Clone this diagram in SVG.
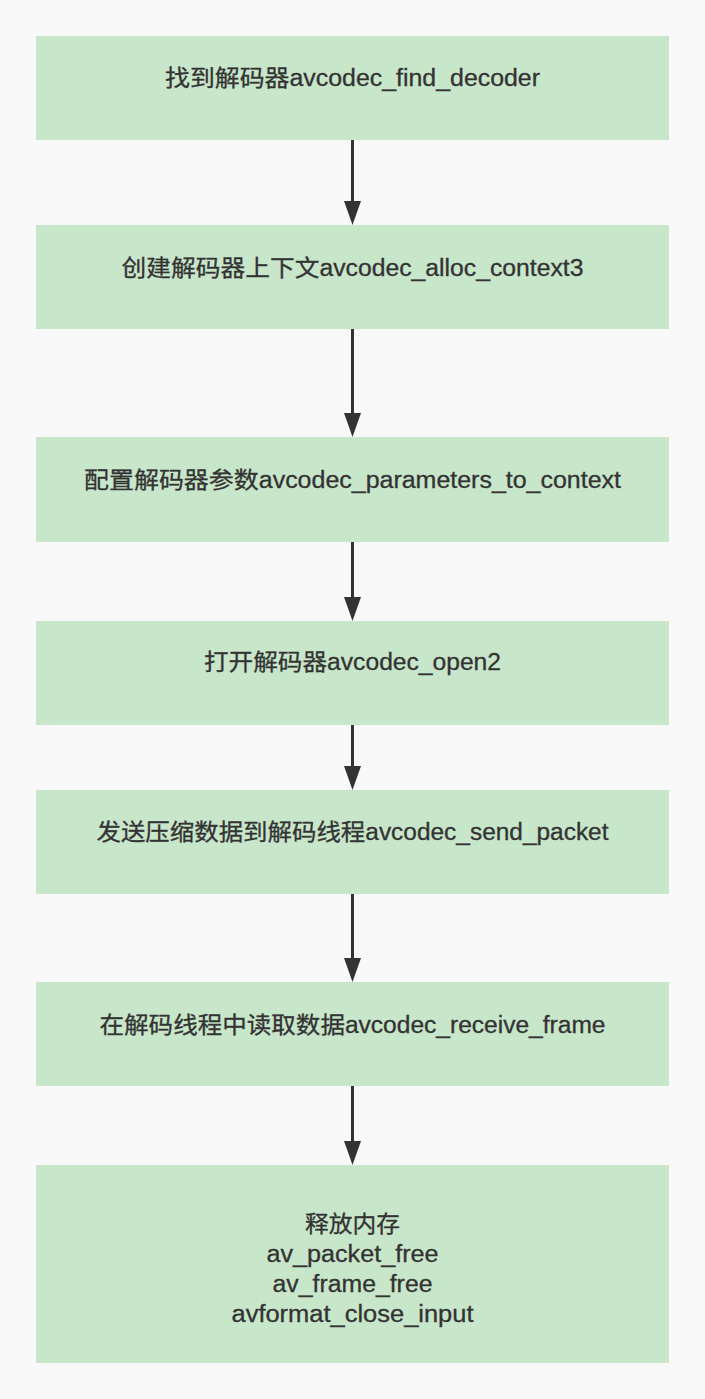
<svg xmlns="http://www.w3.org/2000/svg" width="705" height="1399" viewBox="0 0 705 1399">
  <style>
    .box { fill: #c8e6ca; }
    .lbl { font-family: "Liberation Sans", "Noto Sans CJK SC", sans-serif; font-size: 23px; fill: #333333; stroke: #333333; stroke-width: 0.3; text-anchor: middle; }
    .edge { stroke: #333333; stroke-width: 3; fill: none; }
  </style>
  <defs>
    <marker id="arrow" viewBox="0 0 24 17" refX="14" refY="8.5" markerWidth="24" markerHeight="17" markerUnits="userSpaceOnUse" orient="auto">
      <path d="M0,0 L24,8.5 L0,17 Z" fill="#333333"/>
    </marker>
  </defs>
  <rect x="0" y="0" width="705" height="1399" fill="#f9f9f9"/>

  <g id="connectors">
    <line class="edge" x1="352.5" y1="140" x2="352.5" y2="215" marker-end="url(#arrow)"/>
    <line class="edge" x1="352.5" y1="329" x2="352.5" y2="427" marker-end="url(#arrow)"/>
    <line class="edge" x1="352.5" y1="542" x2="352.5" y2="611" marker-end="url(#arrow)"/>
    <line class="edge" x1="352.5" y1="725" x2="352.5" y2="780" marker-end="url(#arrow)"/>
    <line class="edge" x1="352.5" y1="894" x2="352.5" y2="972" marker-end="url(#arrow)"/>
    <line class="edge" x1="352.5" y1="1086" x2="352.5" y2="1155" marker-end="url(#arrow)"/>
  </g>

  <g id="node1">
    <rect class="box" x="36" y="36" width="633" height="104"/>
    <text class="lbl" x="352.5" y="86" textLength="375" lengthAdjust="spacingAndGlyphs">找到解码器avcodec_find_decoder</text>
  </g>
  <g id="node2">
    <rect class="box" x="36" y="225" width="633" height="104"/>
    <text class="lbl" x="352.5" y="276" textLength="462" lengthAdjust="spacingAndGlyphs">创建解码器上下文avcodec_alloc_context3</text>
  </g>
  <g id="node3">
    <rect class="box" x="36" y="437" width="633" height="105"/>
    <text class="lbl" x="352.5" y="488" textLength="537" lengthAdjust="spacingAndGlyphs">配置解码器参数avcodec_parameters_to_context</text>
  </g>
  <g id="node4">
    <rect class="box" x="36" y="621" width="633" height="104"/>
    <text class="lbl" x="352.5" y="670" textLength="297" lengthAdjust="spacingAndGlyphs">打开解码器avcodec_open2</text>
  </g>
  <g id="node5">
    <rect class="box" x="36" y="790" width="633" height="104"/>
    <text class="lbl" x="352.5" y="840" textLength="512" lengthAdjust="spacingAndGlyphs">发送压缩数据到解码线程avcodec_send_packet</text>
  </g>
  <g id="node6">
    <rect class="box" x="36" y="982" width="633" height="104"/>
    <text class="lbl" x="352.5" y="1033" textLength="506" lengthAdjust="spacingAndGlyphs">在解码线程中读取数据avcodec_receive_frame</text>
  </g>
  <g id="node7">
    <rect class="box" x="36" y="1165" width="633" height="198"/>
    <text class="lbl" x="352.5" y="1232" textLength="95" lengthAdjust="spacingAndGlyphs">释放内存</text>
    <text class="lbl" x="352.5" y="1262" textLength="172" lengthAdjust="spacingAndGlyphs">av_packet_free</text>
    <text class="lbl" x="352.5" y="1292" textLength="160" lengthAdjust="spacingAndGlyphs">av_frame_free</text>
    <text class="lbl" x="352.5" y="1322" textLength="242" lengthAdjust="spacingAndGlyphs">avformat_close_input</text>
  </g>
</svg>
